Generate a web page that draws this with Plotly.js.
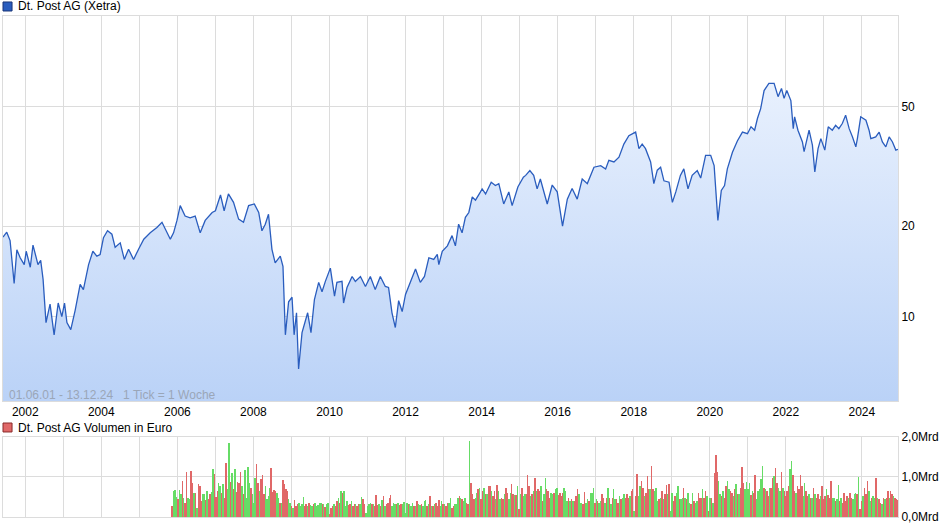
<!DOCTYPE html>
<html>
<head>
<meta charset="utf-8">
<script src="https://cdn.plot.ly/plotly-3.0.1.min.js"></script>
<style>
html, body { margin: 0; padding: 0; background: #fff; }
#chart { width: 940px; height: 526px; }
</style>
</head>
<body>
<div id="chart"></div>
<script>
// Dt. Post AG (Xetra), Schlusskurse in Euro
var priceDates = [
  '2001-06-01','2001-07-07','2001-08-08','2001-09-16','2001-10-12','2001-11-13','2001-12-22',
  '2002-01-10','2002-02-18','2002-03-16','2002-05-03','2002-05-29','2002-06-21','2002-07-19','2002-08-27','2002-10-05','2002-11-13','2002-12-18',
  '2003-01-13','2003-02-05','2003-03-14','2003-04-25','2003-06-12','2003-07-13','2003-09-01','2003-10-12','2003-11-19','2003-12-21',
  '2004-01-22','2004-03-01','2004-04-12','2004-05-13','2004-07-01','2004-08-09','2004-09-19','2004-11-06','2004-12-24',
  '2005-02-12','2005-04-15','2005-06-18','2005-08-06','2005-09-06','2005-10-25','2005-11-25','2005-12-28',
  '2006-01-28','2006-03-16','2006-05-03','2006-06-21','2006-08-08','2006-09-25','2006-12-01',
  '2007-01-01','2007-02-19','2007-03-26','2007-05-06','2007-06-24','2007-08-12','2007-09-28','2007-11-16',
  '2008-01-10','2008-02-21','2008-03-23','2008-04-24','2008-05-25','2008-06-27','2008-07-28','2008-09-15','2008-10-11','2008-11-03','2008-12-04',
  '2009-01-06','2009-01-26','2009-02-18','2009-03-10','2009-04-12','2009-05-13','2009-06-05','2009-07-07','2009-08-09','2009-09-19','2009-10-21','2009-11-22',
  '2010-01-09','2010-02-18','2010-03-13','2010-05-01','2010-05-16','2010-06-18','2010-08-06','2010-09-06','2010-10-25','2010-12-12',
  '2011-01-28','2011-03-16','2011-05-04','2011-06-21','2011-07-22','2011-08-24','2011-09-25','2011-10-27','2011-11-30',
  '2012-01-01','2012-02-18','2012-04-06','2012-05-22','2012-07-01','2012-08-12','2012-09-28','2012-11-01','2012-11-16','2012-12-19',
  '2013-02-06','2013-03-23','2013-04-24','2013-05-25','2013-06-27','2013-07-29','2013-08-31','2013-10-03','2013-11-03','2013-12-21',
  '2014-01-06','2014-02-08','2014-04-03','2014-05-13','2014-06-15','2014-08-01','2014-09-19','2014-10-21','2014-12-15',
  '2015-02-06','2015-02-28','2015-04-09','2015-05-16','2015-06-18','2015-07-19','2015-09-23','2015-11-10','2015-12-28',
  '2016-01-22','2016-02-17','2016-04-03','2016-05-19','2016-07-07','2016-08-24','2016-10-12','2016-12-15',
  '2017-02-18','2017-04-06','2017-05-07','2017-06-25','2017-08-12','2017-09-28','2017-11-15',
  '2018-01-19','2018-02-20','2018-03-23','2018-04-24','2018-06-12','2018-07-13','2018-08-15','2018-09-16','2018-10-18','2018-12-06',
  '2019-01-07','2019-02-09','2019-03-25','2019-04-27','2019-06-06','2019-07-16','2019-09-03','2019-10-06','2019-11-22',
  '2020-01-10','2020-02-12','2020-03-19','2020-04-21','2020-05-22','2020-06-18','2020-08-06','2020-09-22','2020-11-10','2020-12-28',
  '2021-01-31','2021-03-07','2021-04-03','2021-05-04','2021-06-06','2021-07-22','2021-09-10','2021-10-18','2021-11-20','2021-12-15',
  '2022-01-10','2022-02-18','2022-03-13','2022-03-26','2022-04-27','2022-06-09','2022-06-25','2022-08-12','2022-09-13','2022-10-06','2022-11-06','2022-12-03',
  '2023-01-10','2023-02-12','2023-03-23','2023-04-24','2023-05-25','2023-06-27','2023-07-29','2023-09-01','2023-10-03','2023-11-04','2023-11-19','2023-12-21',
  '2024-02-09','2024-03-10','2024-03-27','2024-05-13','2024-06-15','2024-07-16','2024-08-18','2024-09-19','2024-10-21','2024-11-22','2024-12-13'
];
var priceValues = [
  18.4,19.1,17.9,12.9,16.7,15.7,14.9,
  16.5,14.6,17.3,14.9,15.4,13.3,9.55,11.0,8.7,11.1,10.0,
  11.1,9.55,9.05,10.5,12.8,12.3,14.9,16.5,15.9,16.1,
  18.3,19.3,18.8,17.0,17.6,15.5,16.75,15.5,16.75,
  18.1,19.0,19.8,20.6,19.5,18.1,19.0,20.9,
  23.4,21.6,21.3,21.6,19.0,20.9,22.2,
  22.5,25.4,22.5,25.6,24.0,21.1,20.6,23.4,
  23.7,22.2,19.3,20.3,21.9,16.75,15.1,15.9,14.7,8.7,11.2,
  11.6,8.7,10.3,6.7,8.85,9.77,10.3,8.85,11.4,13.0,12.1,13.1,
  14.5,11.7,13.0,13.1,11.1,12.5,13.6,13.1,13.6,12.6,
  13.6,12.3,13.6,12.6,12.5,10.3,9.2,11.3,10.4,
  11.85,13.0,14.4,13.0,13.6,15.7,15.5,16.1,14.9,16.5,
  17.2,18.6,17.2,20.3,19.0,21.4,22.2,25.0,24.4,26.0,
  26.6,25.6,28.0,27.3,27.7,23.7,26.0,23.4,27.0,
  29.1,29.5,30.6,29.5,26.6,28.7,23.7,27.4,26.0,
  23.1,20.0,24.6,26.7,24.6,28.7,27.7,31.4,
  31.8,31.0,33.1,32.7,33.9,37.5,40.0,
  41.1,36.2,37.5,36.2,32.7,27.7,30.7,31.4,28.3,28.0,
  24.0,26.0,29.5,31.0,26.6,29.5,30.6,28.9,34.4,
  34.4,31.8,20.9,26.3,27.3,31.0,35.2,38.4,41.1,40.6,
  42.8,41.7,45.6,49.2,56.5,59.7,59.7,53.9,57.4,53.2,
  56.5,52.3,42.2,46.2,41.7,38.1,35.4,41.7,37.2,30.3,36.2,39.1,
  35.8,42.8,41.7,43.3,42.2,43.9,46.8,42.2,39.6,36.7,39.1,46.2,
  45.0,41.7,39.1,39.6,41.1,38.1,36.7,39.6,38.1,35.8,36.0
];

// Volumen in Mrd Euro, ein Balken je zwei Wochen ab volStart
var volStart = '2005-11-11';
var volStep = 14 * 24 * 3600 * 1000;
var volValues = [
  0.28,0.65,0.67,0.5,0.45,
  0.67,0.57,0.9,0.48,0.36,1.12,0.48,0.44,1.15,0.86,0.6,0.6,0.23,0.82,0.78,0.4,0.57,0.57,0.43,0.65,0.44,0.57,0.63,1.2,1.07,0.5,
  0.65,0.86,0.78,0.61,0.82,0.48,1.34,0.69,1.84,0.88,1.09,0.69,1.19,0.63,0.88,0.86,1.12,0.78,0.57,1.17,0.48,1.25,0.86,0.73,0.57,0.35,
  0.98,1.32,0.86,0.65,0.94,1.04,0.57,0.78,0.44,0.53,0.73,1.22,0.63,0.68,0.65,0.61,0.48,0.36,0.36,0.92,0.82,0.69,0.65,0.44,0.36,0.28,
  0.23,0.43,0.28,0.32,0.34,0.28,0.32,0.5,0.28,0.32,0.28,0.36,0.29,0.28,0.32,0.36,0.28,0.3,0.36,0.36,0.32,0.32,0.26,0.32,0.36,0.07,
  0.23,0.28,0.32,0.28,0.4,0.48,0.36,0.65,0.61,0.65,0.28,0.4,0.29,0.32,0.4,0.28,0.32,0.32,0.28,0.32,0.32,0.5,0.46,0.32,0.11,0.28,
  0.32,0.36,0.32,0.32,0.28,0.54,0.29,0.32,0.28,0.43,0.53,0.28,0.32,0.36,0.48,0.54,0.28,0.36,0.32,0.32,0.36,0.29,0.32,0.32,0.38,0.11,
  0.36,0.32,0.32,0.28,0.36,0.28,0.28,0.4,0.32,0.3,0.32,0.28,0.4,0.43,0.28,0.32,0.53,0.28,0.28,0.32,0.34,0.28,0.43,0.28,0.4,0.32,
  0.32,0.28,0.36,0.36,0.48,0.23,0.28,0.32,0.32,0.48,0.53,0.48,0.44,0.4,0.48,0.36,0.32,1.9,0.86,0.57,0.44,0.48,0.61,0.69,0.73,0.44,
  0.65,0.73,0.57,0.57,0.78,0.78,0.65,0.53,0.65,0.44,0.79,0.65,0.44,0.48,0.44,0.57,0.73,0.61,0.44,0.61,0.82,0.57,0.54,0.54,0.78,0.21,
  0.57,0.73,0.53,0.57,0.57,1.04,0.78,0.53,0.57,0.65,0.98,0.65,0.69,0.65,0.78,0.4,0.57,0.98,0.69,0.65,0.48,0.61,0.57,0.61,0.69,0.73,
  0.54,0.61,0.53,0.59,0.73,0.65,0.4,0.48,0.4,0.44,0.4,0.4,0.53,0.69,0.57,0.36,0.36,0.32,0.63,0.36,0.44,0.4,0.59,0.61,0.73,0.36,
  0.44,0.4,0.36,0.4,0.57,0.48,0.36,0.48,0.73,0.48,0.32,0.48,0.69,0.44,0.44,0.36,0.53,0.44,0.48,0.57,0.48,0.57,0.48,0.53,0.65,0.71,
  0.15,0.53,1.07,0.53,0.78,0.9,0.73,0.53,0.61,1.02,0.69,0.71,1.27,0.69,0.65,0.73,0.4,0.44,0.48,0.65,0.44,0.57,0.79,0.57,0.82,0.15,
  0.61,0.4,0.53,0.61,0.78,0.44,0.44,0.48,0.73,0.48,0.44,0.61,0.36,0.32,0.61,0.4,0.36,0.4,0.61,0.48,0.48,0.69,0.48,0.65,0.53,0.15,
  0.48,0.48,0.36,1.1,1.54,1.12,0.9,0.57,0.53,0.65,0.48,0.78,0.9,0.69,0.65,0.61,0.53,0.69,0.82,0.57,0.57,0.73,1.26,0.86,0.69,0.88,
  0.71,0.86,0.54,0.65,0.61,1.04,0.44,0.65,0.69,0.94,1.27,0.73,0.69,0.65,0.53,0.73,0.73,0.98,1.02,1.23,0.86,0.73,0.65,1.12,0.73,0.65,
  0.53,0.65,0.78,1.19,1.4,1.04,0.65,0.61,0.78,0.71,1.04,0.78,0.53,0.86,0.65,0.53,0.57,0.48,0.48,0.73,0.57,0.48,0.57,0.44,0.53,0.78,
  0.46,0.53,0.69,0.54,0.48,0.9,0.48,0.48,0.4,0.44,0.79,0.4,0.48,0.36,0.61,0.4,0.53,0.48,0.61,0.48,0.44,0.57,0.61,0.57,1.0,0.19,
  0.4,0.53,0.73,0.57,0.9,0.65,0.4,0.48,0.53,0.48,0.98,0.48,0.44,0.36,0.32,0.48,0.44,0.48,0.65,0.48,0.65,0.57,0.53,0.48,0.44,0.43
];
// g = Woche mit Kursplus, r = Woche mit Kursminus
var volDirection = [
  'rgggr',
  'ggrgrrggrrgrgrrrggrgrrggrr',
  'rggrgrrggrgrgrrrrgrggggrgg',
  'grrgrrrggggrrrrggrgrrrrggr',
  'grrrggggrrgrggrgggggrgrggr',
  'rrgrrgrgrgggrrgrrgrrggrrgg',
  'ggrgrrrgrgrgrrrrgggrgrrggg',
  'grgggrgrggrgggrgrgrgrrrggr',
  'grrggrrgggrgrggrrgrrrggrgr',
  'rgrgrrgrrgrggrrgrrggrrgrgr',
  'grggrrrgrgrgrrgrggrrrggrgg',
  'rrrrgggrgrgrrrgggrrggrgggr',
  'grggrrgrgrgrggrrgrggrrrgrr',
  'grrggrrgrrrgrrgggrgrgrrgrg',
  'grrggrggrgrggrgrggrrrgrrgr',
  'grgrrrggrgrrggrrgrgrgrrrgg',
  'ggrgrrgggggrgrrgrrgrrggrgr',
  'rrrggrrgrrrrggrrgrgrgrrrgr',
  'rrgrrrggrggrgrrrrgrrgggrgr',
  'rgrrrggrggrgrrgrgrrgrrgrrr'
].join('');

var lineColor = '#2a5dbe';
var upColor = '#66dc66';
var downColor = '#e06868';
var gridColor = '#dcdcdc';
var font = 'Liberation Sans, Arial, sans-serif';

var barColors = volDirection.split('').map(function (c) {
  return c === 'g' ? upColor : downColor;
});

var price = {
  type: 'scatter',
  mode: 'lines',
  x: priceDates,
  y: priceValues,
  xaxis: 'x',
  yaxis: 'y',
  line: { color: lineColor, width: 1.3 },
  fill: 'tozeroy',
  fillcolor: '#d6e4fb',
  fillgradient: {
    type: 'vertical',
    start: 100,
    stop: 5.24,
    colorscale: [[0, '#f2f7ff'], [1, '#bad2f7']]
  },
  hoverinfo: 'x+y',
  showlegend: false
};

var volume = {
  type: 'bar',
  x0: volStart,
  dx: volStep,
  y: volValues,
  xaxis: 'x2',
  yaxis: 'y2',
  marker: { color: barColors, line: { width: 0 } },
  showlegend: false
};

var axisCommon = {
  type: 'date',
  range: ['2001-06-01', '2024-12-13'],
  showgrid: true,
  gridcolor: gridColor,
  gridwidth: 1,
  dtick: 'M24',
  tick0: '2002-01-01',
  minor: { dtick: 'M12', tick0: '2001-01-01', showgrid: true, gridcolor: gridColor, gridwidth: 1 },
  showline: true,
  linecolor: gridColor,
  mirror: true,
  ticks: '',
  zeroline: false
};

var layout = {
  width: 940,
  height: 526,
  margin: { l: 3, r: 42, t: 16, b: 9 },
  paper_bgcolor: '#ffffff',
  plot_bgcolor: '#ffffff',
  font: { family: font, size: 12, color: '#000' },
  bargap: 0,
  xaxis: Object.assign({}, axisCommon, {
    anchor: 'y',
    tickformat: '%Y',
    tickfont: { family: font, size: 12, color: '#000' }
  }),
  xaxis2: Object.assign({}, axisCommon, {
    anchor: 'y2',
    matches: 'x',
    showticklabels: false
  }),
  yaxis: {
    domain: [0.2315, 1],
    type: 'log',
    range: [Math.log10(5.24), 2],
    side: 'right',
    tickmode: 'array',
    tickvals: [10, 20, 50],
    ticktext: ['10', '20', '50'],
    showgrid: true,
    gridcolor: gridColor,
    showline: true,
    linecolor: gridColor,
    mirror: true,
    ticks: '',
    zeroline: false,
    tickfont: { family: font, size: 12, color: '#000' }
  },
  yaxis2: {
    domain: [0, 0.1597],
    range: [0, 2],
    side: 'right',
    tickmode: 'array',
    tickvals: [0, 1, 2],
    ticktext: ['0,0Mrd', '1,0Mrd', '2,0Mrd'],
    showgrid: true,
    gridcolor: gridColor,
    showline: true,
    linecolor: gridColor,
    mirror: true,
    ticks: '',
    zeroline: false,
    tickfont: { family: font, size: 12, color: '#000' }
  },
  shapes: [
    { type: 'rect', xref: 'paper', yref: 'paper', x0: 0, x1: 0.0101, y0: 1.01, y1: 1.028,
      fillcolor: '#2a5dbe', line: { color: '#1a3578', width: 1 } },
    { type: 'rect', xref: 'paper', yref: 'paper', x0: 0, x1: 0.0101, y0: 0.1697, y1: 0.1876,
      fillcolor: '#e06868', line: { color: '#8a2a2a', width: 1 } }
  ],
  annotations: [
    { xref: 'paper', yref: 'paper', x: 0.0145, y: 1.019, xanchor: 'left', yanchor: 'middle',
      text: 'Dt. Post AG (Xetra)', showarrow: false, font: { family: font, size: 12, color: '#000' } },
    { xref: 'paper', yref: 'paper', x: 0.0145, y: 0.1786, xanchor: 'left', yanchor: 'middle',
      text: 'Dt. Post AG Volumen in Euro', showarrow: false, font: { family: font, size: 12, color: '#000' } },
    { xref: 'paper', yref: 'paper', x: 0.0045, y: 0.2435, xanchor: 'left', yanchor: 'middle',
      text: '01.06.01 - 13.12.24   1 Tick = 1 Woche', showarrow: false,
      font: { family: font, size: 12, color: '#9aa6b8' } }
  ]
};

Plotly.newPlot('chart', [price, volume], layout, { displayModeBar: false, staticPlot: true });
</script>
</body>
</html>
